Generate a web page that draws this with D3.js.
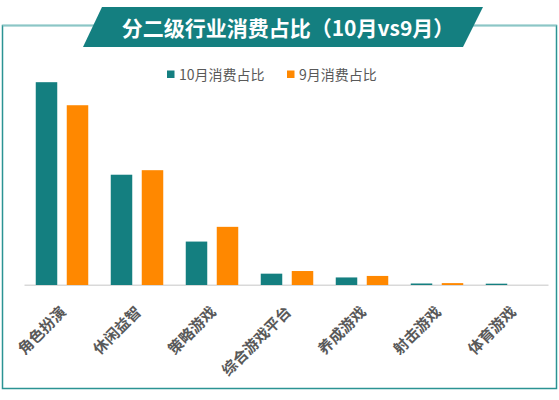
<!DOCTYPE html>
<html>
<head>
<meta charset="utf-8">
<script src="https://cdn.jsdelivr.net/npm/d3@7"></script>
<style>
  body { margin: 0; background: #fff; }
  svg { display: block; }
</style>
</head>
<body>
<svg id="chart"></svg>
<script>
const categories = ["角色扮演", "休闲益智", "策略游戏", "综合游戏平台", "养成游戏", "射击游戏", "体育游戏"]
const oct = [53.7, 29.2, 11.5, 3.0, 2.0, 0.4, 0.35]
const sep = [47.6, 30.4, 15.4, 3.7, 2.4, 0.5, 0.0]
const seriesNames = ["10月消费占比", "9月消费占比"]
const colors = ["#147f80", "#ff8800"]

const W = 559, H = 400
const svg = d3.select("#chart").attr("width", W).attr("height", H)
const font = "'Noto Sans CJK SC', 'Noto Sans', sans-serif"

// outer frame
svg.append("rect")
    .attr("x", 2.5).attr("y", 25.5)
    .attr("width", 554).attr("height", 363)
    .attr("fill", "none")
    .attr("stroke", "#2b9393")
    .attr("stroke-width", 1.5)
svg.append("line")
    .attr("x1", 2.5).attr("x2", 556.5).attr("y1", 25.5).attr("y2", 25.5)
    .attr("stroke", "#8cc6c6").attr("stroke-width", 1.5)

// title banner
svg.append("polygon")
    .attr("points", "102,7 483,7 463,47 83,47")
    .attr("fill", "#147f80")
svg.append("text")
    .attr("x", 288).attr("y", 35.5)
    .attr("text-anchor", "middle")
    .attr("fill", "#fff")
    .style("font-family", font)
    .style("font-size", "21px")
    .style("font-weight", "bold")
    .text("分二级行业消费占比（10月vs9月）")

// scales
const x = d3.scaleBand().domain(categories).range([24.5, 549.5])
const y = d3.scaleLinear().domain([0, 60]).range([285, 58.4])
const barW = 21.5, gap = 9.5

// baseline
svg.append("line")
    .attr("x1", x.range()[0]).attr("x2", x.range()[1] - 1)
    .attr("y1", y(0) + 0.3).attr("y2", y(0) + 0.3)
    .attr("stroke", "#d9d9d9").attr("stroke-width", 1.5)

const data = categories.map((c, i) => ({cat: c, vals: [oct[i], sep[i]]}))

const g = svg.append("g")
data.forEach(d => {
    const cx = x(d.cat) + x.bandwidth() / 2
    d.vals.forEach((v, j) => {
        if (v <= 0) return
        const bx = cx - barW - gap / 2 + j * (barW + gap)
        g.append("rect")
            .attr("x", bx)
            .attr("y", y(v))
            .attr("width", barW)
            .attr("height", y(0) - y(v))
            .attr("fill", colors[j])
    })
})

// category labels
svg.append("g").selectAll("text")
    .data(categories).enter()
    .append("text")
    .attr("transform", d => "translate(" + (x(d) + x.bandwidth() / 2 + 5) + ",313) rotate(-45)")
    .attr("text-anchor", "end")
    .attr("fill", "#595959")
    .style("font-family", font)
    .style("font-size", "15px")
    .style("font-weight", "bold")
    .text(d => d)

// legend
const legX = [167, 287]
seriesNames.forEach((name, i) => {
    svg.append("rect")
        .attr("x", legX[i]).attr("y", 70.5)
        .attr("width", 7.5).attr("height", 7.5)
        .attr("fill", colors[i])
    svg.append("text")
        .attr("x", legX[i] + 12).attr("y", 79.5)
        .attr("fill", "#595959")
        .style("font-family", font)
        .style("font-size", "14px")
        .text(name)
})
</script>
</body>
</html>
